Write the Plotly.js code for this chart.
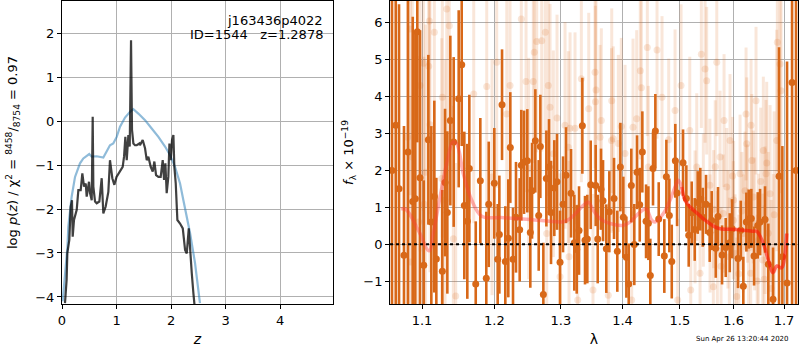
<!DOCTYPE html>
<html><head><meta charset="utf-8">
<script src="https://cdn.plot.ly/plotly-3.0.1.min.js"></script>
<style>body{margin:0;padding:0;background:#fff}#chart{width:800px;height:350px}</style>
</head><body><div id="chart"></div>
<script>
// ---- Left panel: redshift probability ----
const zPdf = [0.055,0.085,0.098,0.134,0.159,0.183,0.196,0.22,0.27,0.30,0.343,0.373,0.404,0.435,0.453,0.495,0.514,0.545,0.563,0.575,0.606,0.636,0.685,0.728,0.758,0.80,0.85,0.88,0.923,0.96,1.0,1.064,1.113,1.138,1.162,1.187,1.217,1.242,1.266,1.284,1.309,1.339,1.37,1.419,1.43,1.48,1.523,1.554,1.584,1.627,1.664,1.694,1.725,1.768,1.81,1.847,1.872,1.896,1.92,1.95,1.97,1.994,2.018,2.043,2.06,2.086,2.116,2.165,2.215,2.257,2.288,2.325,2.349,2.38,2.41,2.43];
const logPz = [-4.14,-3.61,-3.0,-2.70,-1.95,-1.80,-2.63,-2.25,-2.02,-1.57,-1.57,-1.19,-1.49,-1.42,-1.72,-1.38,-1.64,-1.80,0.10,-1.49,-1.83,-1.87,-1.83,-1.30,-2.10,-1.95,-1.61,-0.89,-1.30,-1.45,-1.27,-1.15,-1.04,-0.81,-0.36,-0.89,-0.32,-0.58,1.84,-0.20,-0.51,-0.55,-0.55,-0.51,-0.55,-0.43,-0.62,-0.89,-0.81,-1.04,-1.15,-0.92,-1.23,-1.27,-1.27,-0.89,-1.34,-0.96,-1.64,-1.27,-0.51,-0.89,-0.43,-0.32,-1.04,-1.42,-2.25,-2.33,-2.44,-2.93,-3.01,-2.44,-3.01,-3.46,-3.92,-4.18];
const zPrior = [0.012,0.055,0.10,0.116,0.177,0.239,0.330,0.391,0.50,0.544,0.636,0.758,0.82,0.88,0.94,1.003,1.064,1.156,1.248,1.309,1.40,1.523,1.645,1.768,1.89,1.98,2.073,2.165,2.226,2.349,2.44,2.514,2.53];
const logPrior = [-4.10,-3.45,-2.86,-2.40,-1.72,-1.27,-0.96,-0.85,-0.75,-0.81,-0.80,-0.83,-0.70,-0.55,-0.51,-0.36,-0.13,0.08,0.21,0.27,0.17,0.02,-0.17,-0.36,-0.58,-0.77,-1.04,-1.42,-1.80,-2.55,-3.23,-3.99,-4.14];

// ---- Right panel: spectrum (dark grism) ----
const waveA = [1.0610,1.0658,1.0700,1.0764,1.0816,1.0878,1.0912,1.0938,1.0974,1.1023,1.1084,1.1124,1.1164,1.1191,1.1272,1.1309,1.1340,1.1381,1.1427,1.1496,1.1538,1.1574,1.1616,1.1644,1.1734,1.1799,1.1884,1.1919,1.1999,1.2048,1.2072,1.2111,1.2159,1.2203,1.2232,1.2272,1.2316,1.2371,1.2395,1.2436,1.2485,1.2530,1.2556,1.2606,1.2657,1.2682,1.2728,1.2774,1.2815,1.2846,1.2897,1.2939,1.2986,1.3033,1.3080,1.3159,1.3211,1.3249,1.3286,1.3339,1.3382,1.3419,1.3474,1.3555,1.3588,1.3642,1.3675,1.3729,1.3779,1.3857,1.3912,1.3963,1.4013,1.4064,1.4104,1.4148,1.4199,1.4246,1.4292,1.4337,1.4401,1.4441,1.4475,1.4522,1.4563,1.4622,1.4721,1.4757,1.4810,1.4853,1.4917,1.4948,1.5056,1.5116,1.5159,1.5214,1.5269,1.5324,1.5372,1.5417,1.5478,1.5547,1.5584,1.5660,1.5703,1.5779,1.5849,1.5926,1.5970,1.6085,1.6138,1.6188,1.6247,1.6294,1.6345,1.6398,1.6471,1.6517,1.6616,1.6682,1.6777,1.6898,1.6966,1.7062,1.7165,1.7247];
const fluxA = [2.0,3.22,1.5,-0.30,2.5,1.16,1.23,5.76,1.8,-0.57,2.83,0.60,1.29,-0.40,-0.73,1.67,0.86,3.35,2.77,3.94,4.86,1.05,0.62,2.05,-1.08,1.72,-0.92,1.08,1.65,-0.41,0.26,3.78,-0.47,0.16,2.62,-0.41,0.73,0.39,2.14,2.22,2.26,0.32,1.45,2.80,0.78,2.65,-1.36,1.78,2.09,0.86,1.52,1.69,-0.49,1.08,1.87,1.38,0.04,-0.14,0.37,3.21,0.11,0.14,1.61,1.59,0.14,1.49,1.18,-0.12,0.88,1.24,-0.19,2.09,0.73,-0.35,-1.08,1.59,-0.01,1.95,1.07,2.50,0.62,0.57,-0.85,2.05,3.07,0.68,-0.32,1.83,0.78,-0.47,2.26,1.39,2.21,1.24,0.24,0.85,0.40,1.13,1.22,0.73,1.08,0.32,0.64,-0.11,0.75,-0.29,-0.09,0.04,0.42,-0.39,0.38,-1.14,0.60,0.68,0.70,-0.32,0.51,0.60,0.67,-0.54,-1.49,1.84,-0.34,-1.05,4.38,2.0];
const errA = [6,5,5,3.5,5,5,4.5,3,4,
  2.3,2.3,2.6,2.6,2.2,
  2.2,2.0,2.2,2.3,2.3,2.4,2.2,2.0,2.1,2.0,
  1.7,1.7,1.8,1.7,1.5,1.5,1.6,1.5,1.5,1.6,1.5,1.4,1.5,1.4,1.5,1.4,1.4,1.5,1.3,1.4,1.5,1.4,1.4,1.3,1.3,1.4,1.3,1.3,1.4,1.3,1.3,
  1.2,1.3,1.2,1.2,1.3,1.2,1.2,1.2,1.1,1.2,1.1,1.1,1.2,1.1,1.1,1.1,1.2,1.1,1.1,1.1,1.0,1.1,1.0,1.0,1.1,1.0,1.0,1.0,1.0,1.0,
  1.0,1.0,1.0,1.0,1.0,1.0,0.9,0.9,0.9,0.85,
  0.85,0.85,0.85,0.85,0.8,0.8,0.8,0.8,0.8,0.8,0.8,0.8,0.8,0.8,0.8,0.8,0.8,0.8,0.8,0.8,0.8,0.9,0.9,0.9,
  1.1,1.4,3.5,3,6,6,6];

// ---- Right panel: spectrum (faint grism) ----
const waveB = [1.0812,1.0846,1.0851,1.0872,1.0956,1.0974,1.1019,1.1026,1.1047,1.1089,1.1097,1.1106,1.1164,1.1264,1.1272,1.1309,1.1332,1.1367,1.1422,1.1455,1.1706,1.1890,1.1966,1.2034,1.2180,1.2228,1.2395,1.2466,1.2506,1.2575,1.2590,1.2627,1.2703,1.2758,1.2780,1.2804,1.2831,1.2882,1.2939,1.2986,1.3064,1.3116,1.3127,1.3143,1.3222,1.3265,1.3323,1.3442,1.3511,1.3544,1.3550,1.3560,1.3626,1.3647,1.3762,1.3815,1.3819,1.3845,1.3929,1.3979,1.4042,1.4155,1.4177,1.4240,1.4302,1.4320,1.4423,1.4441,1.4592,1.4680,1.4799,1.4912,1.4960,1.5020,1.5178,1.5196,1.5275,1.5306,1.5367,1.5391,1.5428,1.5460,1.5490,1.5550,1.5553,1.5615,1.5620,1.5650,1.5679,1.5690,1.5741,1.5760,1.5803,1.5817,1.5868,1.5890,1.5918,1.5931,1.5980,1.5995,1.6000,1.6027,1.6060,1.6100,1.6124,1.6160,1.6188,1.6220,1.6241,1.6254,1.6270,1.6290,1.6333,1.6339,1.6353,1.6384,1.6410,1.6437,1.6460,1.6483,1.6530,1.6571,1.6582,1.6600,1.6616,1.6636,1.6650,1.6680,1.6717,1.6740,1.6783,1.6800,1.6852,1.6864,1.6919,1.6939];
const fluxB = [2.90,5.83,-0.48,2.36,0.60,4.30,4.90,1.08,1.95,4.82,6.05,3.24,5.74,1.78,3.98,1.19,6.37,5.92,0.15,-1.40,4.07,4.27,1.82,4.93,3.53,4.30,6.10,4.41,2.05,4.41,5.20,5.49,5.51,5.74,0.29,4.30,3.71,2.45,3.42,-0.88,3.22,2.63,-0.34,3.14,3.14,-1.51,4.48,3.67,-1.24,4.66,3.86,4.18,2.90,3.35,-1.38,2.81,3.89,2.86,2.73,3.19,2.46,-1.51,3.17,3.40,4.70,4.24,5.33,2.09,5.26,3.98,2.83,3.62,-1.51,4.30,3.08,-1.24,0.74,2.09,-0.79,5.15,1.19,4.75,4.43,1.60,0.29,-1.15,0.95,2.10,4.93,-0.16,2.36,-0.60,0.83,3.35,1.55,0.40,-0.34,2.81,1.85,0.65,1.20,-0.25,-1.42,-0.80,1.91,0.90,0.29,1.45,3.53,2.72,1.10,-0.10,-0.79,3.22,2.27,1.28,0.55,3.89,-1.00,0.11,1.70,-0.43,2.54,-0.95,0.65,1.91,2.20,0.30,1.37,-1.20,-0.70,0.80,2.81,5.47,4.88,4.16];
const errB = [4.5,4.5,4.5,4.5,4.5,4.5,4,4,4,4,4,4,4,3.8,3.8,3.8,3.8,3.8,3.6,3.6,3.5,3.5,3.2,3.4,3.2,3.2,3.2,3.0,3.0,3.0,3.0,3.0,3.0,3.0,2.8,3.0,2.8,2.8,2.8,2.8,2.8,2.6,2.6,2.6,2.6,2.6,2.8,2.6,2.6,2.6,2.6,2.6,2.5,2.5,2.5,2.5,2.5,2.5,2.4,2.4,2.4,2.4,2.4,2.4,2.4,2.4,2.4,2.2,2.4,2.2,2.2,2.2,2.2,2.2,2.0,2.0,1.8,2.0,1.8,2.0,1.8,2.0,2.0,1.8,1.6,1.8,1.6,1.8,2.0,1.6,1.8,1.6,1.6,1.8,1.6,1.6,1.6,1.8,1.6,1.6,1.6,1.6,1.6,1.6,1.6,1.6,1.6,1.6,1.8,1.8,1.6,1.6,1.6,1.8,1.8,1.8,1.8,2.0,1.8,1.8,2.0,1.8,2.0,2.0,2.0,2.0,2.2,2.2,2.4,2.4,2.6,2.8,3.0,3.5,3.5,3.5];

// ---- Model ----
const modelWave1 = [1.0726,1.0790,1.0951,1.1093,1.1150,1.1241,1.1340,1.1414,1.1469,1.1560,1.1678,1.1819,1.2130,1.2525,1.3038,1.3143,1.3355,1.3435,1.3516,1.3626,1.3791,1.4013,1.4126,1.4297,1.4401,1.4500,1.4557,1.4704,1.4822,1.4912,1.4971,1.5032];
const modelFlux1 = [0.96,0.94,0.38,-0.18,0.29,1.28,2.27,2.77,2.72,1.91,1.19,0.76,0.72,0.67,0.61,0.69,1.05,1.14,0.92,0.69,0.56,0.51,0.60,0.87,0.96,0.65,0.60,0.83,1.19,1.55,1.73,1.55];
const modelWave2 = [1.5032,1.5092,1.5183,1.5306,1.5460,1.5615,1.5741,1.6060,1.6384,1.6451,1.6582,1.6682,1.6771,1.6852,1.6953,1.7021,1.7055];
const modelFlux2 = [1.55,1.19,1.01,0.85,0.65,0.49,0.42,0.40,0.35,0.35,0.02,-0.43,-0.77,-0.59,-0.64,-0.25,0.29];

const darkC = 'rgb(216,104,24)';
const faintC = 'rgba(218,108,28,0.17)';

const traces = [
  {x:zPrior, y:logPrior, xaxis:'x', yaxis:'y', mode:'lines', line:{color:'rgba(31,119,180,0.5)', width:2.2}, hoverinfo:'skip'},
  {x:zPdf, y:logPz, xaxis:'x', yaxis:'y', mode:'lines', line:{color:'rgba(0,0,0,0.75)', width:2.2}, hoverinfo:'skip'},
  {x:waveB, y:fluxB, xaxis:'x2', yaxis:'y2', mode:'markers', marker:{color:faintC, size:7},
   error_y:{type:'data', array:errB, color:faintC, thickness:3, width:0}},
  {x:waveA, y:fluxA, xaxis:'x2', yaxis:'y2', mode:'markers', marker:{color:darkC, size:7},
   error_y:{type:'data', array:errA, color:darkC, thickness:2.6, width:0}},
  {x:modelWave1, y:modelFlux1, xaxis:'x2', yaxis:'y2', mode:'lines', line:{color:'rgba(255,60,60,0.4)', width:3.5, shape:'spline'}},
  {x:modelWave2, y:modelFlux2, xaxis:'x2', yaxis:'y2', mode:'lines', line:{color:'rgba(255,20,10,0.6)', width:3.5, shape:'spline'}}
];

const axBase = {showgrid:true, gridcolor:'#b0b0b0', gridwidth:1, zeroline:false, showline:true, mirror:true,
  linecolor:'black', linewidth:1, ticks:'outside', ticklen:4, tickcolor:'black', tickfont:{size:13}};

const layout = {
  width:800, height:350,
  margin:{l:62, r:2, t:1, b:46},
  paper_bgcolor:'white', plot_bgcolor:'white', showlegend:false,
  font:{family:'DejaVu Sans, sans-serif', size:13, color:'black'},
  xaxis:Object.assign({}, axBase, {domain:[0,0.3682], range:[0,4.97], tickvals:[0,1,2,3,4], anchor:'y',
    title:{text:'<i>z</i>', font:{size:14}, standoff:7}}),
  yaxis:Object.assign({}, axBase, {domain:[0,1], range:[-4.16,2.73], tickvals:[-4,-3,-2,-1,0,1,2], anchor:'x',
    title:{text:'log <i>p</i>(<i>z</i>) / χ<sup>2</sup> = <sup>8458</sup>/<sub>8754</sub> = 0.97', font:{size:13}, standoff:14}}),
  xaxis2:Object.assign({}, axBase, {domain:[0.4457,1], type:'log', range:[Math.log10(1.0585), Math.log10(1.7288)],
    tickvals:[1.1,1.2,1.3,1.4,1.5,1.6,1.7], ticktext:['1.1','1.2','1.3','1.4','1.5','1.6','1.7'], anchor:'y2',
    title:{text:'λ', font:{size:14}, standoff:7}}),
  yaxis2:Object.assign({}, axBase, {domain:[0,1], range:[-1.62,6.59], tickvals:[-1,0,1,2,3,4,5,6], anchor:'x2',
    title:{text:'<i>f</i><sub>λ</sub> × 10<sup>−19</sup>', font:{size:13}, standoff:6}}),
  shapes:[
    {type:'line', xref:'x2 domain', yref:'y2', x0:0, x1:1, y0:0, y1:0, line:{color:'black', width:2, dash:'dot'}, layer:'above'}
  ],
  annotations:[
    {xref:'paper', yref:'paper', x:0.357, y:0.937, xanchor:'right', yanchor:'middle', showarrow:false,
     text:'j163436p4022', font:{size:13}},
    {xref:'paper', yref:'paper', x:0.357, y:0.888, xanchor:'right', yanchor:'middle', showarrow:false,
     text:'ID=1544\u00a0\u00a0\u00a0z=1.2878', font:{size:13}},
    {xref:'paper', yref:'paper', x:0.924, y:-0.116, xanchor:'center', yanchor:'middle', showarrow:false,
     text:'Sun Apr 26 13:20:44 2020', font:{size:7}}
  ]
};

Plotly.newPlot('chart', traces, layout, {staticPlot:true, displayModeBar:false});
</script>
</body></html>
